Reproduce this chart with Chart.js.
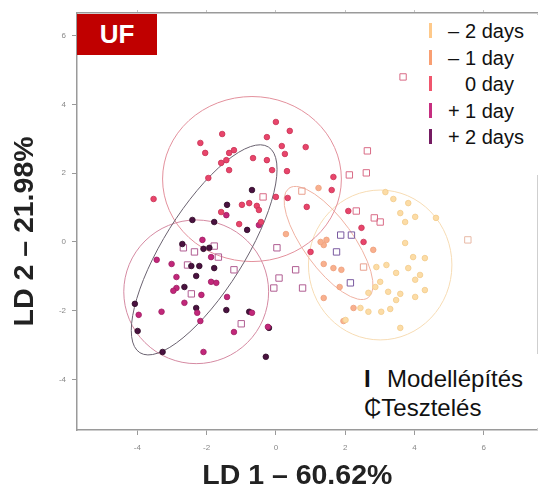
<!DOCTYPE html>
<html>
<head>
<meta charset="utf-8">
<script src="https://cdn.jsdelivr.net/npm/chart.js@4.4.1/dist/chart.umd.min.js"></script>
<style>
body { margin: 0; background: #fff; font-family: "Liberation Sans", Arial, sans-serif; }
#wrap { position: relative; width: 543px; height: 490px; }
#uf { position: absolute; left: 77px; top: 14px; width: 80px; height: 41px; background: #c00000; color: #fff;
      font-weight: bold; font-size: 26px; line-height: 41px; text-align: center; }
#days { position: absolute; left: 424px; top: 15px; width: 119px; height: 160px; background: #fff; }
.row { position: absolute; left: 0; width: 119px; height: 26px; font-size: 20px; line-height: 26px; color: #111; white-space: nowrap; }
.bar { position: absolute; left: 5px; top: 5px; width: 3px; height: 15px; }
.sign { position: absolute; left: 24px; }
.txt { position: absolute; left: 41px; }
#kind { position: absolute; left: 355px; top: 354px; width: 188px; height: 74px; background: #fff; font-size: 24px; color: #111; }
#kind div { position: absolute; white-space: nowrap; line-height: 29px; }
</style>
</head>
<body>
<div id="wrap">
  <canvas id="lda" width="543" height="490"></canvas>
  <div id="uf">UF</div>
  <div id="days"></div>
  <div id="kind">
    <div style="left:9px;top:10px;font-weight:bold;">I</div>
    <div style="left:32px;top:10px;">Modellépítés</div>
    <div style="left:9px;top:39px;font-family:'Liberation Sans','DejaVu Sans',sans-serif;">₵Tesztelés</div>
  </div>
</div>
<script>
// sampling days, order of the legend
const categories = ['– 2 days', '– 1 day', '0 day', '+ 1 day', '+ 2 days'];
const xTicks = [-4, -2, 0, 2, 4, 6];
const yTicks = [-4, -2, 0, 2, 4, 6];

// model building samples (LD1, LD2)
const modelMinus2 = [[3.73,-0.03],[4.62,0.70],[3.96,-0.44],[4.30,-0.47],[2.90,-0.73],[3.19,-0.67],[3.47,-0.90],
  [3.82,-0.76],[4.16,-0.96],[4.02,-1.10],[3.01,-1.16],[2.87,-1.31],[3.24,-1.45],[3.59,-1.51],[4.30,-1.40],
  [2.67,-1.48],[2.44,-1.92],[2.67,-2.03],[3.04,-2.03],[3.30,-1.95],[3.59,-2.50],[3.39,1.25],[3.82,1.13],
  [4.02,0.73],[3.59,0.84],[3.73,0.58],[3.16,1.45],[4.02,-1.60],[3.47,-1.69],[2.01,-2.27]];
const modelMinus1 = [[0.29,0.23],[1.38,-0.09],[1.29,0.00],[1.46,0.06],[1.38,-0.64],[1.66,-0.76],[1.89,-0.81],
  [1.84,-1.31],[1.38,-1.63],[1.95,-2.30],[2.24,-1.92],[1.23,1.57],[2.81,-0.23]];
const modelZero = [[0.00,3.49],[-1.55,3.14],[-2.18,2.88],[-2.04,2.59],[-1.95,1.86],[-3.53,1.25],[-1.35,2.59],
  [-1.43,2.38],[-1.58,2.30],[-1.21,2.67],[-1.35,2.09],[-0.66,2.44],[-0.26,3.05],[-0.26,2.38],[-0.11,2.09],
  [0.00,1.31],[0.40,3.23],[0.17,2.79],[0.86,2.76],[0.26,2.56],[0.32,2.06],[1.66,1.89],[1.61,1.51],[0.34,1.28],
  [0.89,1.02],[-0.98,1.08],[-0.77,1.13],[-0.55,1.05],[-0.49,0.93],[-0.43,0.58],[2.09,0.90],[2.47,0.41],
  [2.53,0.00],[1.00,-0.29],[-1.06,0.52],[-1.58,0.87]];
const modelPlus1 = [[-2.12,0.06],[-3.44,-0.52],[-3.01,-0.64],[-2.87,-1.02],[-2.87,-1.34],[-2.96,-1.42],
  [-1.87,-1.16],[-1.72,-1.19],[-2.15,-1.54],[-1.41,-1.60],[-2.64,-1.77],[-2.27,-2.06],[-3.30,-2.03],
  [-3.96,-2.12],[-2.18,-2.30],[-1.21,-2.62],[-2.09,-3.20],[-1.43,0.78],[-1.87,-0.44],[-0.69,-2.06],
  [-0.49,0.49],[-0.23,-2.47]];
const modelPlus2 = [[-2.41,0.64],[-1.78,0.58],[-2.70,-0.06],[-2.09,-0.20],[-1.78,-0.76],[-2.30,-0.99],
  [-2.64,-1.31],[-2.30,-1.92],[-4.07,-1.80],[-3.99,-2.59],[-3.27,-3.20],[-1.43,-1.98],[-0.83,0.35],
  [-0.77,-2.03],[-0.20,-2.50],[-0.29,-3.34],[-0.69,1.51],[-1.41,1.08],[-2.44,-0.70],[-2.21,-0.70],[-1.92,-0.17]];

// test samples
const testMinus2 = [[5.54,0.06]];
const testMinus1 = [[0.75,1.48],[2.53,-0.73]];
const testZero = [[3.67,4.80],[2.64,2.65],[2.61,2.01],[2.12,1.95],[-0.37,1.31],[2.32,0.90],[2.84,0.70],[3.01,0.58]];
const testPlus1 = [[0.03,-0.17],[0.57,-0.81],[-0.06,-1.34],[0.77,-1.34],[0.09,-1.05],[-1.00,-2.38],[-1.21,-0.81],
  [-1.66,-0.44],[-1.78,-0.12],[-2.35,-0.29],[-2.55,-0.67],[-2.67,-0.17],[-2.44,-1.51]];
const testPlus2 = [[1.87,0.20],[2.18,0.20],[2.15,-1.19],[1.75,-0.29]];

// group ellipses (centre, semi axes, tilt in degrees)
const ellipseCx = [3.01, 1.52, -0.69, -2.30, -2.07];
const ellipseCy = [-0.67, -0.03, 1.83, -1.45, -0.23];
const ellipseRx = [2.07, 1.95, 2.58, 2.09, 3.50];
const ellipseRy = [2.18, 0.72, 2.40, 2.09, 1.18];
const ellipseAngle = [0, -54, 0, 0, 58];

const pointFill = ['#fcdca6', '#f8b08e', '#e8456b', '#c2277a', '#4a1240'];
const pointEdge = ['#f2cb8c', '#eda07c', '#c93356', '#9e1d62', '#2f0a26'];
const testEdge = ['#e8b9a5', '#e9a08e', '#d96b86', '#b05d92', '#7a5aa0'];
const barColors = ['#fec98a', '#f99f72', '#f0566d', '#c62e80', '#751b62'];
const ellipseColors = ['#f7dcb4', '#f0b2a2', '#e3909c', '#d58aa2', '#6a6270'];

const models = [modelMinus2, modelMinus1, modelZero, modelPlus1, modelPlus2];
const tests = [testMinus2, testMinus1, testZero, testPlus1, testPlus2];

// legend of days
const days = document.getElementById('days');
categories.forEach((c, i) => {
    const row = document.createElement('div');
    row.className = 'row';
    row.style.top = (3 + i * 26.5) + 'px';
    let sign = '', rest = c;
    if (c[0] === '–' || c[0] === '+') { sign = c[0]; rest = c.slice(2); }
    row.innerHTML = '<span class="bar" style="background:' + barColors[i] + '"></span>' +
        '<span class="sign">' + sign + '</span><span class="txt">' + rest + '</span>';
    days.appendChild(row);
});

const toXY = arr => arr.map(p => ({x: p[0], y: p[1]}));
const datasets = [];
models.forEach((m, i) => {
    datasets.push({
        label: categories[i],
        data: toXY(m),
        pointStyle: 'circle',
        pointRadius: 2.8,
        backgroundColor: pointFill[i],
        borderColor: pointEdge[i],
        borderWidth: 0.8
    });
});
tests.forEach((t, i) => {
    datasets.push({
        label: categories[i] + ' test',
        data: toXY(t),
        pointStyle: 'rect',
        pointRadius: 4.5,
        backgroundColor: 'rgba(255,255,255,0)',
        borderColor: testEdge[i],
        borderWidth: 1
    });
});

const ellipsePlugin = {
    id: 'ellipses',
    beforeDatasetsDraw(chart) {
        const ctx = chart.ctx, xs = chart.scales.x, ys = chart.scales.y;
        const ux = Math.abs(xs.getPixelForValue(1) - xs.getPixelForValue(0));
        const uy = Math.abs(ys.getPixelForValue(1) - ys.getPixelForValue(0));
        ctx.save();
        ctx.lineWidth = 1;
        for (let i = 0; i < ellipseCx.length; i++) {
            ctx.beginPath();
            ctx.strokeStyle = ellipseColors[i];
            ctx.ellipse(xs.getPixelForValue(ellipseCx[i]), ys.getPixelForValue(ellipseCy[i]),
                ellipseRx[i] * ux, ellipseRy[i] * uy, -ellipseAngle[i] * Math.PI / 180, 0, 2 * Math.PI);
            ctx.stroke();
        }
        ctx.restore();
    }
};

const axisGrey = '#9a9a9a';
const font = '"Liberation Sans", Arial, sans-serif';

new Chart(document.getElementById('lda'), {
    type: 'scatter',
    data: {datasets: datasets},
    plugins: [ellipsePlugin],
    options: {
        responsive: false,
        animation: false,
        layout: {padding: 0},
        plugins: {legend: {display: false}, tooltip: {enabled: false}},
        scales: {
            x: {
                type: 'linear', position: 'bottom', min: -5.74, max: 7.55,
                afterBuildTicks: s => { s.ticks = xTicks.map(v => ({value: v})); },
                afterFit: s => { s.height = 60; },
                grid: {drawOnChartArea: false, drawTicks: true, tickLength: 5, color: axisGrey},
                border: {color: axisGrey, width: 1.5},
                ticks: {color: '#888', font: {size: 8, family: font}, padding: 8},
                // trailing spaces pull the centred title a little to the left, as in the original
                title: {display: true, text: 'LD 1 – 60.62%\u2002\u2009', color: '#222',
                        font: {size: 28.5, weight: 'bold', family: font, lineHeight: 1}, padding: {top: 0, bottom: 0}}
            },
            x2: {
                type: 'linear', position: 'top', min: -5.74, max: 7.55,
                afterBuildTicks: s => { s.ticks = xTicks.map(v => ({value: v})); },
                afterFit: s => { s.height = 13; },
                grid: {drawOnChartArea: false, drawTicks: true, tickLength: 3, color: '#c4c4c4'},
                border: {color: axisGrey, width: 1.5},
                ticks: {display: false}
            },
            y: {
                type: 'linear', position: 'left', min: -5.47, max: 6.66,
                afterBuildTicks: s => { s.ticks = yTicks.map(v => ({value: v})); },
                afterFit: s => { s.width = 77; },
                grid: {drawOnChartArea: false, drawTicks: true, tickLength: 5, color: axisGrey},
                border: {color: axisGrey, width: 1.5},
                ticks: {color: '#888', font: {size: 8, family: font}, padding: 6},
                title: {display: true, text: 'LD 2 – 21.98%\u2002\u2009', color: '#222',
                        font: {size: 28.5, weight: 'bold', family: font, lineHeight: 1}, padding: {top: 11, bottom: 0}}
            },
            y2: {
                type: 'linear', position: 'right', min: -5.47, max: 6.66,
                afterBuildTicks: s => { s.ticks = yTicks.map(v => ({value: v})); },
                afterFit: s => { s.width = 3; },
                grid: {drawOnChartArea: false, drawTicks: false, color: '#cfcfcf'},
                border: {color: '#cfcfcf', width: 1},
                ticks: {display: false}
            }
        }
    }
});
</script>
</body>
</html>
